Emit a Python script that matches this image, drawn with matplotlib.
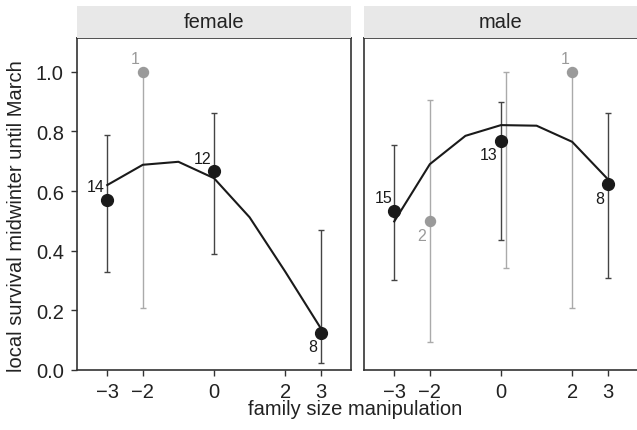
import numpy as np
import matplotlib.pyplot as plt

plt.rcParams['font.family'] = ['Liberation Sans', 'DejaVu Sans']

# observed survival (points with error bars)
f_x = [-3, -2, 0, 3]
f_y = [0.57, 1.0, 0.667, 0.125]
f_lo = [0.327, 0.207, 0.39, 0.024]
f_hi = [0.787, 1.0, 0.862, 0.471]
f_n = ['14', '1', '12', '8']
f_grey = [False, True, False, False]

m_x = [-3, -2, 0, 2, 3]
m_y = [0.533, 0.50, 0.769, 1.0, 0.625]
m_lo = [0.302, 0.095, 0.437, 0.207, 0.308]
m_hi = [0.753, 0.905, 0.90, 1.0, 0.862]
m_n = ['15', '2', '13', '1', '8']
m_grey = [False, True, False, True, False]

# extra grey interval for males near 0 (no point)
m_extra_x = [0.13]
m_extra_lo = [0.343]
m_extra_hi = [1.0]

# model fit
fit_x = [-3, -2, -1, 0, 1, 2, 3]
f_fit = [0.62, 0.688, 0.698, 0.643, 0.512, 0.33, 0.14]
m_fit = [0.498, 0.69, 0.785, 0.821, 0.819, 0.765, 0.64]

# label offsets (points) per data point
f_off = [(-8.6, 10), (-5.8, 9.6), (-8.1, 9.1), (-6, -9.6)]
m_off = [(-7.9, 9.4), (-6, -10.3), (-9.1, -10.3), (-5, 9.6), (-6, -10.8)]

dark = '#1a1a1a'
grey = '#9a9a9a'

fig = plt.figure(figsize=(6.37, 4.31), dpi=100)

W, H = 637, 431
ax_b = (H - 371) / H
ax_h = 332 / H
panels = [
    ('female', 77, f_x, f_y, f_lo, f_hi, f_n, f_grey, f_fit, f_off, None),
    ('male', 364, m_x, m_y, m_lo, m_hi, m_n, m_grey, m_fit, m_off,
     (m_extra_x, m_extra_lo, m_extra_hi)),
]

axes = []
for name, left, x, y, lo, hi, n, isgrey, fit, off, extra in panels:
    ax = fig.add_axes([left / W, ax_b, 274 / W, ax_h])
    axes.append(ax)
    if extra is not None:
        ex, elo, ehi = extra
        for xi, a, b in zip(ex, elo, ehi):
            mid = (a + b) / 2
            ax.errorbar([xi], [mid], yerr=[[mid - a], [b - mid]],
                        fmt='none', ecolor='#aaaaaa', elinewidth=1.0, capsize=2.3, capthick=1.0)
    for xi, yi, a, b, g in zip(x, y, lo, hi, isgrey):
        ec = '#aaaaaa' if g else '#444444'
        ax.errorbar([xi], [yi], yerr=[[yi - a], [b - yi]], fmt='none', ecolor=ec,
                    elinewidth=1.0, capsize=2.3, capthick=1.0, zorder=2)
    ax.plot(fit_x, fit, color=dark, lw=1.5, zorder=3)
    for xi, yi, ni, g, o in zip(x, y, n, isgrey, off):
        c = grey if g else dark
        ax.plot([xi], [yi], 'o', color=c, ms=7.2 if g else 8.5, zorder=4)
        ax.annotate(ni, (xi, yi), xytext=o, textcoords='offset points',
                    ha='center', va='center', fontsize=11.5, color=c)
    ax.set_xlim(-3.85, 3.85)
    ax.set_ylim(0, 1.113)
    ax.set_xticks([-3, -2, 0, 2, 3])
    ax.set_xticklabels(['\u22123', '\u22122', '0', '2', '3'])
    ax.tick_params(direction='out', length=4.5, width=1, colors='#333333',
                   labelsize=14.5, labelcolor='#222222')
    ax.tick_params(axis='x', pad=4)
    ax.tick_params(axis='y', pad=5)
    for s in ax.spines.values():
        s.set_linewidth(1.2)
        s.set_color('#333333')

    strip = fig.add_axes([left / W, (H - 39) / H, 274 / W, 32 / H])
    strip.set_facecolor('#e8e8e8')
    strip.set_xticks([])
    strip.set_yticks([])
    for s in strip.spines.values():
        s.set_visible(False)
    strip.text(0.5, 0.5, name, ha='center', va='center', fontsize=14.5,
               color='#222222', transform=strip.transAxes)

axes[0].set_yticks([0, 0.2, 0.4, 0.6, 0.8, 1.0])
axes[0].set_yticklabels(['0.0', '0.2', '0.4', '0.6', '0.8', '1.0'])
axes[0].set_ylabel('local survival midwinter until March', fontsize=14.5,
                   color='#222222')
axes[0].yaxis.set_label_coords(-0.187, 0.465)
axes[1].set_yticks([])

fig.text(355 / W, 1 - 410 / H, 'family size manipulation', ha='center', va='center',
         fontsize=14.5, color='#222222')

fig.savefig('out.png', dpi=100)
